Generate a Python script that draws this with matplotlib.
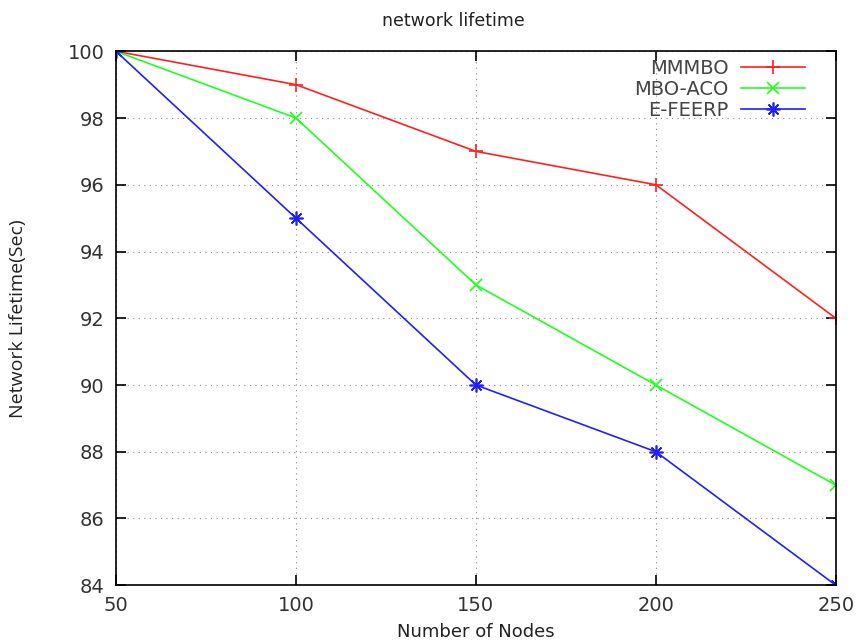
import matplotlib.pyplot as plt

# ===== Data =====
nodes = [50, 100, 150, 200, 250]
mmmbo = [100, 99, 97, 96, 92]
mbo_aco = [100, 98, 93, 90, 87]
e_feerp = [100, 95, 90, 88, 84]

# ===== Figure =====
fig = plt.figure(figsize=(8.59, 6.41), dpi=100)
ax = fig.add_axes([0.135, 0.087, 0.838, 0.833])

ax.plot(nodes, mmmbo, color='#ff2020', lw=1.2, marker='+', ms=10, mew=1.2, label='MMMBO')
ax.plot(nodes, mbo_aco, color='#20ff20', lw=1.2, marker='x', ms=8, mew=1.2, label='MBO-ACO')
ax.plot(nodes, e_feerp, color='#2020ff', lw=1.2, marker=(8, 2, 0), ms=10, mew=1.2, label='E-FEERP')

ax.set_xlim(50, 250)
ax.set_ylim(84, 100)
ax.set_xticks(nodes)
ax.set_yticks(range(84, 101, 2))
ax.tick_params(direction='in', length=7, width=1.2, top=True, right=True,
               labelsize=14, labelcolor='#333333', pad=8)
for s in ax.spines.values():
    s.set_linewidth(1.2)
ax.grid(True, linestyle=(0, (1, 4)), linewidth=0.8, color='#888888')

fig.text(0.528, 1 - 21 / 641, 'network lifetime', fontsize=12.5, ha='center', va='center',
         color='#222222')
ax.set_xlabel('Number of Nodes', fontsize=13, color='#222222')
ax.set_ylabel('Network Lifetime(Sec)', fontsize=14, color='#222222', family='Open Sans')
ax.yaxis.set_label_coords(-0.124, 0.5)
ax.xaxis.set_label_coords(0.5, -0.070)

ax.legend(loc='upper right', frameon=False, markerfirst=False, fontsize=14,
          handlelength=3.3, handletextpad=0.6, labelspacing=0.1,
          borderaxespad=0.2, bbox_to_anchor=(0.973, 1.008), labelcolor='#444444')

plt.savefig('out.png', dpi=100)
plt.close()
